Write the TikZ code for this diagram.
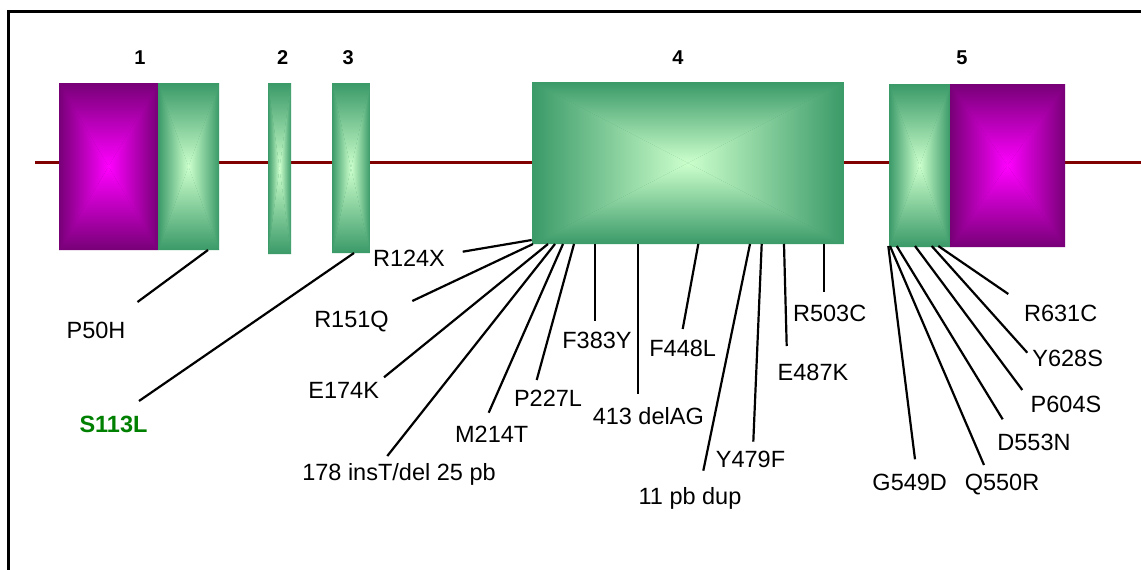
\documentclass[tikz,border=0pt]{standalone}
\usepackage{fontspec}
\setmainfont{Liberation Sans}
\definecolor{gdark}{RGB}{58,154,104}
\definecolor{glight}{RGB}{204,255,204}
\definecolor{pdark}{RGB}{119,0,119}
\definecolor{plight}{RGB}{255,0,255}
\definecolor{bbred}{RGB}{128,0,0}
\definecolor{labgreen}{RGB}{0,128,0}
\newcommand{\pyrbox}[6]{%
 \pgfmathsetmacro\pcx{(#1+#3)/2}%
 \pgfmathsetmacro\pcy{(#2+#4)/2}%
 \fill[#5] (#1,-#2) rectangle (#3,-#4);
 \begin{scope}\clip (#1,-#2) -- (#3,-#2) -- (\pcx,-\pcy) -- cycle;
   \shade[top color=#5,middle color=#6!62!#5,bottom color=#6] (#1,-#2) rectangle (#3,-\pcy);\end{scope}
 \begin{scope}\clip (#1,-#4) -- (#3,-#4) -- (\pcx,-\pcy) -- cycle;
   \shade[top color=#6,middle color=#6!62!#5,bottom color=#5] (#1,-\pcy) rectangle (#3,-#4);\end{scope}
 \begin{scope}\clip (#1,-#2) -- (#1,-#4) -- (\pcx,-\pcy) -- cycle;
   \shade[left color=#5,middle color=#6!62!#5,right color=#6] (#1,-#2) rectangle (\pcx,-#4);\end{scope}
 \begin{scope}\clip (#3,-#2) -- (#3,-#4) -- (\pcx,-\pcy) -- cycle;
   \shade[left color=#6,middle color=#6!62!#5,right color=#5] (\pcx,-#2) rectangle (#3,-#4);\end{scope}
}
\tikzset{
  lab/.style={font=\fontsize{23.5}{26}\selectfont, inner sep=0pt, anchor=base},
  num/.style={font=\bfseries\fontsize{20}{24}\selectfont, inner sep=0pt, anchor=base},
  con/.style={line width=2.2pt, black},
  frameline/.style={line width=3pt, black},
  backbone/.style={line width=3pt, bbred}
}
\begin{document}
\begin{tikzpicture}[x=1pt,y=1pt]
\useasboundingbox (0,0) rectangle (1141,-570);
\fill[white] (0,0) rectangle (1141,-570);
% frame
\coordinate (fr1) at (1141,-11);
\coordinate (fr2) at (8,-11);
\coordinate (fr3) at (8,-570);
\draw[frameline] (fr1) -- (fr2) -- (fr3);
% backbone
\coordinate (bbL) at (35,-162);
\coordinate (bbR) at (1141,-162);
\draw[backbone] (bbL) -- (bbR);
% exons
\pyrbox{59}{83}{158}{250}{pdark}{plight}
\pyrbox{158}{83}{219}{250}{gdark}{glight}
\pyrbox{268}{83}{291}{254}{gdark}{glight}
\pyrbox{332}{83}{370}{253}{gdark}{glight}
\pyrbox{532}{82}{844}{244}{gdark}{glight}
\pyrbox{889}{84}{950}{247}{gdark}{glight}
\pyrbox{950}{84}{1065}{247}{pdark}{plight}
% exon numbers
\node[num] (n1) at (140,-64.3) {1};
\node[num] (n2) at (282.7,-64.3) {2};
\node[num] (n3) at (348.3,-64.3) {3};
\node[num] (n4) at (678,-64.3) {4};
\node[num] (n5) at (962,-64.3) {5};
% connectors
\foreach \n/\tx/\ty/\bx/\by in {
  p50/208/250/137.5/302,
  s113/354/253/139/401,
  r124/531.7/240/462.7/251.7,
  r151/533/244/412.3/301,
  e174/548/244/384/377.3,
  ins178/555/244/387.3/456,
  m214/563/244/488.7/412.7,
  p227/574/244/536.7/380,
  f383/595/244/595/320.7,
  del413/638.3/244/638.3/394.3,
  f448/698.3/244/682.7/329,
  dup11/750/244/703.3/470.7,
  y479/761.7/244/753.3/441.7,
  e487/784/244/786.7/346,
  r503/824/244/824/292.3,
  g549/888.3/246/915/459.3,
  q550/890/246/984/465,
  d553/896.7/246/1002.7/419.3,
  p604/915/246/1022.3/390,
  y628/931.7/246/1027.3/352.7,
  r631/938.3/246/1008.3/294}{
  \coordinate (t\n) at (\tx,-\ty);
  \coordinate (b\n) at (\bx,-\by);
  \draw[con] (t\n) -- (b\n);
}
% labels
\node[lab] (lp50) at (96,-338) {P50H};
\node[lab, font=\bfseries\fontsize{23.5}{26}\selectfont, text=labgreen] (ls113) at (113.5,-432) {S113L};
\node[lab] (lr124) at (409,-266) {R124X};
\node[lab] (lr151) at (351.5,-327) {R151Q};
\node[lab] (le174) at (343.7,-398.3) {E174K};
\node[lab] (lins178) at (399,-480) {178 insT/del 25 pb};
\node[lab] (lm214) at (491.7,-442.7) {M214T};
\node[lab] (lp227) at (548,-406) {P227L};
\node[lab] (lf383) at (597,-348) {F383Y};
\node[lab] (ldel413) at (648.3,-424) {413 delAG};
\node[lab] (lf448) at (682.7,-356) {F448L};
\node[lab] (ldup11) at (690,-504) {11 pb dup};
\node[lab] (ly479) at (750.5,-467) {Y479F};
\node[lab] (le487) at (813,-380) {E487K};
\node[lab] (lr503) at (829.7,-321.7) {R503C};
\node[lab] (lg549) at (909.7,-490) {G549D};
\node[lab] (lq550) at (1002,-490) {Q550R};
\node[lab] (ld553) at (1034,-450.7) {D553N};
\node[lab] (lp604) at (1066,-412.7) {P604S};
\node[lab] (ly628) at (1067.7,-366.7) {Y628S};
\node[lab] (lr631) at (1060.7,-321.7) {R631C};
\end{tikzpicture}
\end{document}
